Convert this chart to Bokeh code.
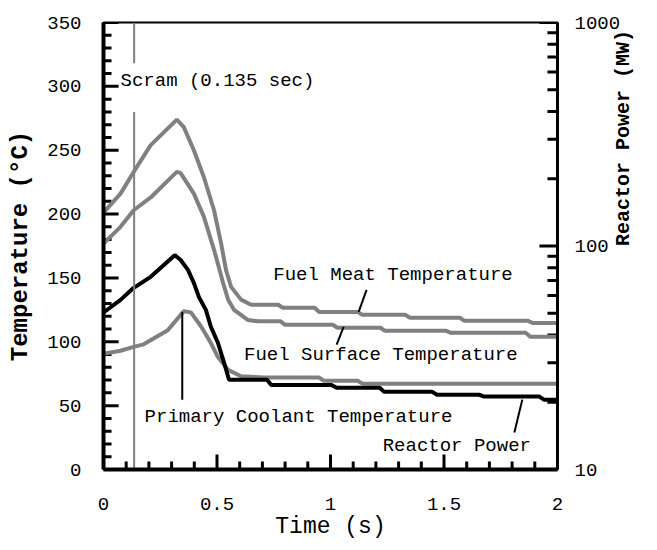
import math
from bokeh.plotting import figure
from bokeh.models import (Range1d, LogScale, LogAxis, FixedTicker,
                          PrintfTickFormatter, Label)
from bokeh.embed import file_html
from bokeh.resources import INLINE

# ---------------- data ----------------
meat_t = [0, 0.075, 0.133, 0.208, 0.323, 0.354, 0.398, 0.442, 0.487, 0.518, 0.54, 0.562, 0.606,
          0.65, 0.77, 0.79, 0.93, 0.95, 1.12, 1.14, 1.33, 1.35, 1.57, 1.59, 1.87, 1.89, 2.0]
meat_T = [201, 216, 233, 254, 274, 268, 250, 229, 203, 177, 156, 143, 133,
          129, 129, 126.6, 126.6, 123.4, 123.4, 121.1, 121.1, 118.8, 118.8, 116.4, 116.4, 114.8, 114.8]

surf_t = [0, 0.075, 0.133, 0.208, 0.323, 0.34, 0.398, 0.442, 0.487, 0.527, 0.549, 0.575, 0.637,
          0.68, 0.78, 0.80, 1.01, 1.03, 1.22, 1.24, 1.51, 1.53, 1.86, 1.88, 2.0]
surf_T = [177, 190, 203, 213, 233, 232, 216, 198, 172, 146, 133, 125, 117,
          116, 116, 113.3, 113.3, 111, 111, 108.6, 108.6, 107, 107, 104, 104]

cool_t = [0, 0.075, 0.133, 0.177, 0.283, 0.354, 0.385, 0.43, 0.473, 0.504, 0.549, 0.606, 0.708,
          0.95, 0.97, 1.12, 1.14, 2.0]
cool_T = [90.6, 93, 96, 98, 109, 124, 123, 112, 99, 88, 78, 73, 72,
          72, 69.5, 69.5, 67.2, 67.2]

power_t = [0, 0.075, 0.133, 0.208, 0.314, 0.34, 0.372, 0.398, 0.42, 0.451, 0.473, 0.504, 0.531, 0.553,
           0.72, 0.739, 1.004, 1.027, 1.217, 1.235, 1.447, 1.469, 1.655, 1.677, 1.92, 1.942, 2.0]
power_MW = [50.4, 57.4, 65, 72.8, 91, 86.6, 78.2, 68.4, 59.2, 51.8, 43.5, 36.9, 30.1, 25.2,
            25.2, 23.9, 23.9, 23.2, 23.2, 22.3, 22.3, 21.6, 21.6, 21.2, 21.2, 20.5, 20.5]

scram_time = 0.135

x_ticks = [0, 0.5, 1, 1.5, 2]
x_minor = [0.1, 0.2, 0.3, 0.4, 0.6, 0.7, 0.8, 0.9, 1.1, 1.2, 1.3, 1.4, 1.6, 1.7, 1.8, 1.9]
x_tick_labels = ["0", "0.5", "1", "1.5", "2"]
temp_ticks = [0, 50, 100, 150, 200, 250, 300, 350]
temp_minor = [v for v in range(10, 350, 10) if v % 50 != 0]
power_ticks = [10, 100, 1000]
power_minor = [20, 30, 40, 50, 60, 70, 80, 90, 200, 300, 400, 500, 600, 700, 800, 900]

GRAY = "#808080"
FONT = "Liberation Mono"

FW, FH = 452, 448          # approximate frame size in pixels (for tick lengths)
X0, X1, Y0, Y1 = 0, 2, 0, 350

p = figure(width=649, height=542, output_backend="svg", toolbar_location=None,
           x_range=Range1d(X0, X1), y_range=Range1d(Y0, Y1),
           min_border_left=103, min_border_right=90, min_border_top=22, min_border_bottom=70)
p.extra_y_ranges = {"power": Range1d(10, 1000)}
p.extra_y_scales = {"power": LogScale()}

p.grid.visible = False
p.outline_line_color = "black"
p.outline_line_width = 2
p.background_fill_color = "white"
p.border_fill_color = "white"

xa = p.xaxis[0]
xa.ticker = FixedTicker(ticks=x_ticks)
xa.major_label_overrides = {t: l for t, l in zip(x_ticks, x_tick_labels)}
ya = p.yaxis[0]
ya.ticker = FixedTicker(ticks=temp_ticks)

ra = LogAxis(y_range_name="power")
ra.ticker = FixedTicker(ticks=power_ticks)
ra.formatter = PrintfTickFormatter(format="%d")
p.add_layout(ra, "right")

for ax, lw in ((xa, 4), (ya, 4), (ra, 3)):
    ax.axis_line_width = lw
    ax.axis_line_color = "black"
    ax.major_tick_in = 0
    ax.major_tick_out = 0
    ax.minor_tick_in = 0
    ax.minor_tick_out = 0
    ax.major_label_text_font = FONT
    ax.major_label_text_font_size = "19px"
    ax.major_label_text_color = "black"
    ax.major_label_text_line_height = 0.9
    ax.axis_label_text_font = FONT
    ax.axis_label_text_font_style = "bold"
    ax.axis_label_text_color = "black"
    ax.axis_label_text_line_height = 0.8

xa.major_label_standoff = 28
xa.axis_label = "Time (s)"
xa.axis_label_text_font_style = "normal"
xa.axis_label_text_font_size = "23px"
xa.axis_label_standoff = 1

ya.major_label_standoff = 22
ya.axis_label = "Temperature (°C)"
ya.axis_label_text_font_size = "24px"
ya.axis_label_standoff = 10

ra.major_label_standoff = 17
ra.axis_label = "Reactor Power (MW)"
ra.axis_label_text_font_size = "20px"
ra.axis_label_standoff = 0
ra.axis_label_text_align = "center"
if "axis_label_orientation" in ra.properties():
    ra.axis_label_orientation = math.pi / 2

# inward tick marks (lengths in pixels converted through the frame scale)
dx = (X1 - X0) / FW
dy = (Y1 - Y0) / FH
MAJ, MIN = 15, 8
tick_kw = dict(line_color="black", line_width=3)
p.segment(x0=[X0] * len(temp_ticks), y0=temp_ticks, x1=[X0 + MAJ * dx] * len(temp_ticks), y1=temp_ticks, **tick_kw)
p.segment(x0=[X0] * len(temp_minor), y0=temp_minor, x1=[X0 + MIN * dx] * len(temp_minor), y1=temp_minor, **tick_kw)
p.segment(x0=x_ticks, y0=[Y0] * len(x_ticks), x1=x_ticks, y1=[Y0 + MAJ * dy] * len(x_ticks), **tick_kw)
p.segment(x0=x_minor, y0=[Y0] * len(x_minor), x1=x_minor, y1=[Y0 + MIN * dy] * len(x_minor), **tick_kw)
p.segment(x0=[X1 - 18 * dx] * len(power_ticks), y0=power_ticks, x1=[X1] * len(power_ticks), y1=power_ticks,
          y_range_name="power", **tick_kw)
p.segment(x0=[X1 - 10 * dx] * len(power_minor), y0=power_minor, x1=[X1] * len(power_minor), y1=power_minor,
          y_range_name="power", **tick_kw)

# curves
p.line(meat_t, meat_T, line_color=GRAY, line_width=4)
p.line(surf_t, surf_T, line_color=GRAY, line_width=4)
p.line(cool_t, cool_T, line_color=GRAY, line_width=4)
p.line(power_t, power_MW, line_color="black", line_width=4, y_range_name="power")

# scram marker
p.segment(x0=[scram_time, scram_time], y0=[0, 318], x1=[scram_time, scram_time], y1=[280, 350],
          line_color=GRAY, line_width=2)

# pointer lines
p.segment(x0=[1.159, 1.058, 0.347, 1.845], y0=[140.6, 111.7, 123.4, 54.7],
          x1=[1.124, 1.027, 0.347, 1.81], y1=[123.4, 97.7, 54.7, 28.9],
          line_color="black", line_width=2)

annotations = [
    (0.075, 304, "Scram (0.135 sec)"),
    (0.748, 152.3, "Fuel Meat Temperature"),
    (0.619, 89.8, "Fuel Surface Temperature"),
    (0.181, 41.4, "Primary Coolant Temperature"),
    (1.23, 18.75, "Reactor Power"),
]
for x, y, t in annotations:
    p.add_layout(Label(x=x, y=y, text=t, text_font=FONT, text_font_size="19px",
                       text_align="left", text_baseline="middle", text_color="black"))

open("out.html", "w").write(file_html(p, INLINE))
